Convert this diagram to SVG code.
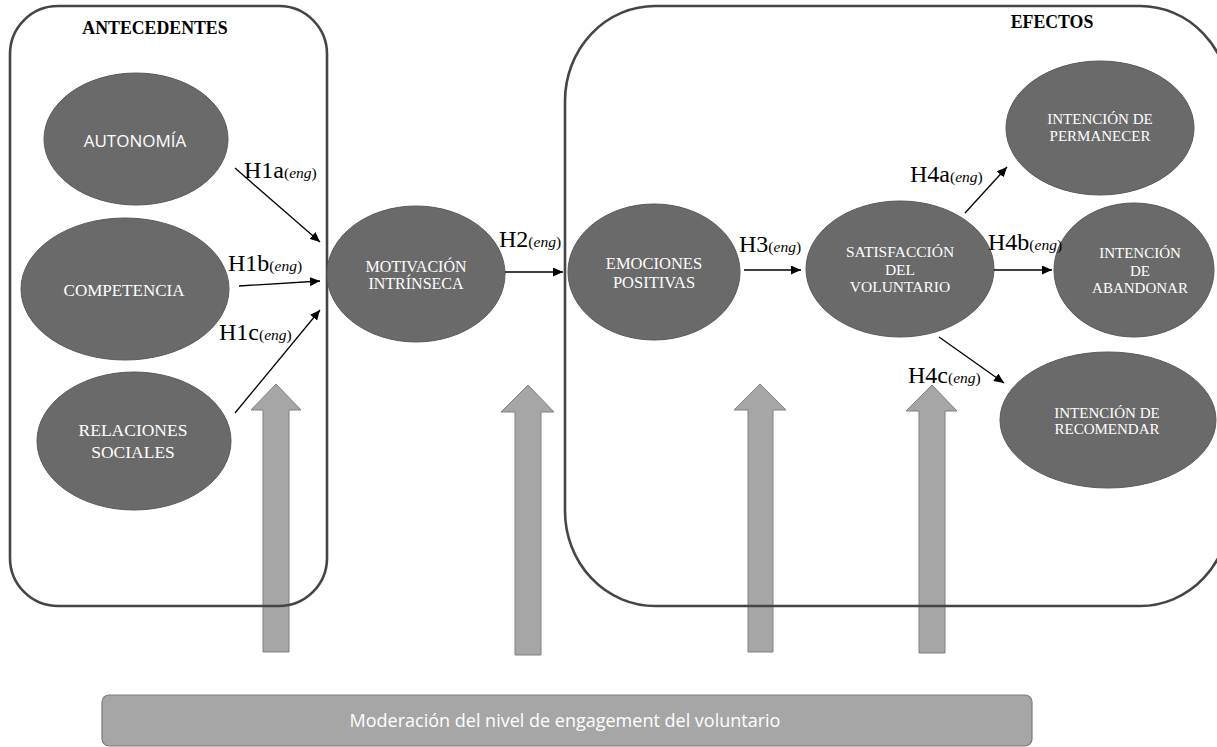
<svg xmlns="http://www.w3.org/2000/svg" width="1217" height="747" viewBox="0 0 1217 747">
<style>
.bg{fill:#ffffff}
.box{fill:none;stroke:#454545;stroke-width:2.6}
.node{fill:#6a6a6a;stroke:#5a5a5a;stroke-width:1}
.nt{fill:#ffffff;font-family:"Liberation Serif","Times New Roman",serif;font-size:15px;text-anchor:middle}
.ns{fill:#ffffff;font-family:"Open Sans","Liberation Sans",sans-serif;font-size:17px;text-anchor:middle}
.title{fill:#000000;font-family:"Liberation Serif","Times New Roman",serif;font-size:17.8px;font-weight:bold;text-anchor:middle}
.big{fill:#a6a6a6;stroke:#808080;stroke-width:1}
.conn{stroke:#000000;stroke-width:1.3;fill:none;marker-end:url(#ah)}
.hl{fill:#000000;font-family:"Liberation Serif","Times New Roman",serif;font-size:24px}
.eng{font-size:15.5px}
.bar{fill:#a6a6a6;stroke:#7a7a7a;stroke-width:1.2}
.bt{fill:#ffffff;font-family:"Open Sans","Liberation Sans",sans-serif;font-size:18px;text-anchor:middle}
.f17{font-size:17px}
.f175{font-size:17.5px}
.f16{font-size:16px}
.f165{font-size:16.5px}
.f155{font-size:15.5px}
</style>
<defs>
<marker id="ah" markerUnits="userSpaceOnUse" markerWidth="11" markerHeight="9" refX="10" refY="4.5" orient="auto">
<path d="M0,0 L10,4.5 L0,9 Z" fill="#000000"/>
</marker>
</defs>
<rect class="bg" x="0" y="0" width="1217" height="747"/>

<g id="moderation-arrows">
<path class="big" d="M263,652 L263,410 L251,410 L276,384 L301,410 L289,410 L289,652 Z"/>
<path class="big" d="M515,655 L515,412 L501,412 L528,385 L554,412 L541,412 L541,655 Z"/>
<path class="big" d="M748,652 L748,410 L734,410 L760,384 L786,410 L773,410 L773,652 Z"/>
<path class="big" d="M919,653 L919,411 L906,411 L932,385 L957,411 L945,411 L945,653 Z"/>
</g>

<g id="antecedentes">
<rect class="box" x="10" y="6" width="317" height="600" rx="48" ry="48"/>
<text class="title" x="155" y="34">ANTECEDENTES</text>
</g>
<g id="efectos">
<rect class="box" x="565" y="6" width="665" height="600" rx="90" ry="95"/>
<text class="title" x="1052" y="28">EFECTOS</text>
</g>

<g id="autonomia">
<ellipse class="node" cx="136" cy="139" rx="92" ry="66"/>
<text class="ns" x="135" y="147">AUTONOMÍA</text>
</g>
<g id="competencia">
<ellipse class="node" cx="125" cy="289" rx="104" ry="71"/>
<text class="nt f17" x="124" y="296">COMPETENCIA</text>
</g>
<g id="relaciones">
<ellipse class="node" cx="134" cy="441" rx="97" ry="69"/>
<text class="nt f175" x="133" y="436">RELACIONES</text>
<text class="nt f175" x="133" y="458">SOCIALES</text>
</g>
<g id="motivacion">
<ellipse class="node" cx="416" cy="274" rx="89" ry="68"/>
<text class="nt f16" x="416" y="272">MOTIVACIÓN</text>
<text class="nt f16" x="416" y="289">INTRÍNSECA</text>
</g>
<g id="emociones">
<ellipse class="node" cx="654" cy="272" rx="86" ry="68"/>
<text class="nt f165" x="654" y="269">EMOCIONES</text>
<text class="nt f165" x="654" y="288">POSITIVAS</text>
</g>
<g id="satisfaccion">
<ellipse class="node" cx="900" cy="269" rx="94" ry="68"/>
<text class="nt f155" x="900" y="257">SATISFACCIÓN</text>
<text class="nt f155" x="900" y="275">DEL</text>
<text class="nt f155" x="900" y="292">VOLUNTARIO</text>
</g>
<g id="permanecer">
<ellipse class="node" cx="1100" cy="128" rx="94" ry="67"/>
<text class="nt" x="1100" y="124">INTENCIÓN DE</text>
<text class="nt" x="1100" y="141">PERMANECER</text>
</g>
<g id="abandonar">
<ellipse class="node" cx="1134" cy="270" rx="80" ry="67"/>
<text class="nt" x="1140" y="258">INTENCIÓN</text>
<text class="nt" x="1140" y="276">DE</text>
<text class="nt" x="1140" y="293">ABANDONAR</text>
</g>
<g id="recomendar">
<ellipse class="node" cx="1108" cy="420" rx="108" ry="68"/>
<text class="nt" x="1107" y="418">INTENCIÓN DE</text>
<text class="nt" x="1107" y="434">RECOMENDAR</text>
</g>

<g id="connectors">
<line class="conn" x1="235" y1="168" x2="320" y2="242"/>
<line class="conn" x1="239" y1="286" x2="320" y2="281"/>
<line class="conn" x1="235" y1="413" x2="320" y2="310"/>
<line class="conn" x1="505" y1="272" x2="563" y2="272"/>
<line class="conn" x1="744" y1="270" x2="801" y2="270"/>
<line class="conn" x1="965" y1="213" x2="1007" y2="167"/>
<line class="conn" x1="994" y1="270" x2="1052" y2="270"/>
<line class="conn" x1="939" y1="337" x2="1004" y2="383"/>
</g>

<g id="labels">
<text class="hl" x="244" y="178">H1a<tspan class="eng">(<tspan font-style="italic">eng</tspan>)</tspan></text>
<text class="hl" x="228" y="271">H1b<tspan class="eng">(<tspan font-style="italic">eng</tspan>)</tspan></text>
<text class="hl" x="219" y="340">H1c<tspan class="eng">(<tspan font-style="italic">eng</tspan>)</tspan></text>
<text class="hl" x="499" y="247">H2<tspan class="eng">(<tspan font-style="italic">eng</tspan>)</tspan></text>
<text class="hl" x="739" y="252">H3<tspan class="eng">(<tspan font-style="italic">eng</tspan>)</tspan></text>
<text class="hl" x="910" y="182">H4a<tspan class="eng">(<tspan font-style="italic">eng</tspan>)</tspan></text>
<text class="hl" x="988" y="250">H4b<tspan class="eng">(<tspan font-style="italic">eng</tspan>)</tspan></text>
<text class="hl" x="908" y="383">H4c<tspan class="eng">(<tspan font-style="italic">eng</tspan>)</tspan></text>
</g>

<g id="moderacion">
<rect class="bar" x="102" y="695" width="930" height="51" rx="7" ry="7"/>
<text class="bt" x="565" y="727">Moderación del nivel de engagement del voluntario</text>
</g>
</svg>
